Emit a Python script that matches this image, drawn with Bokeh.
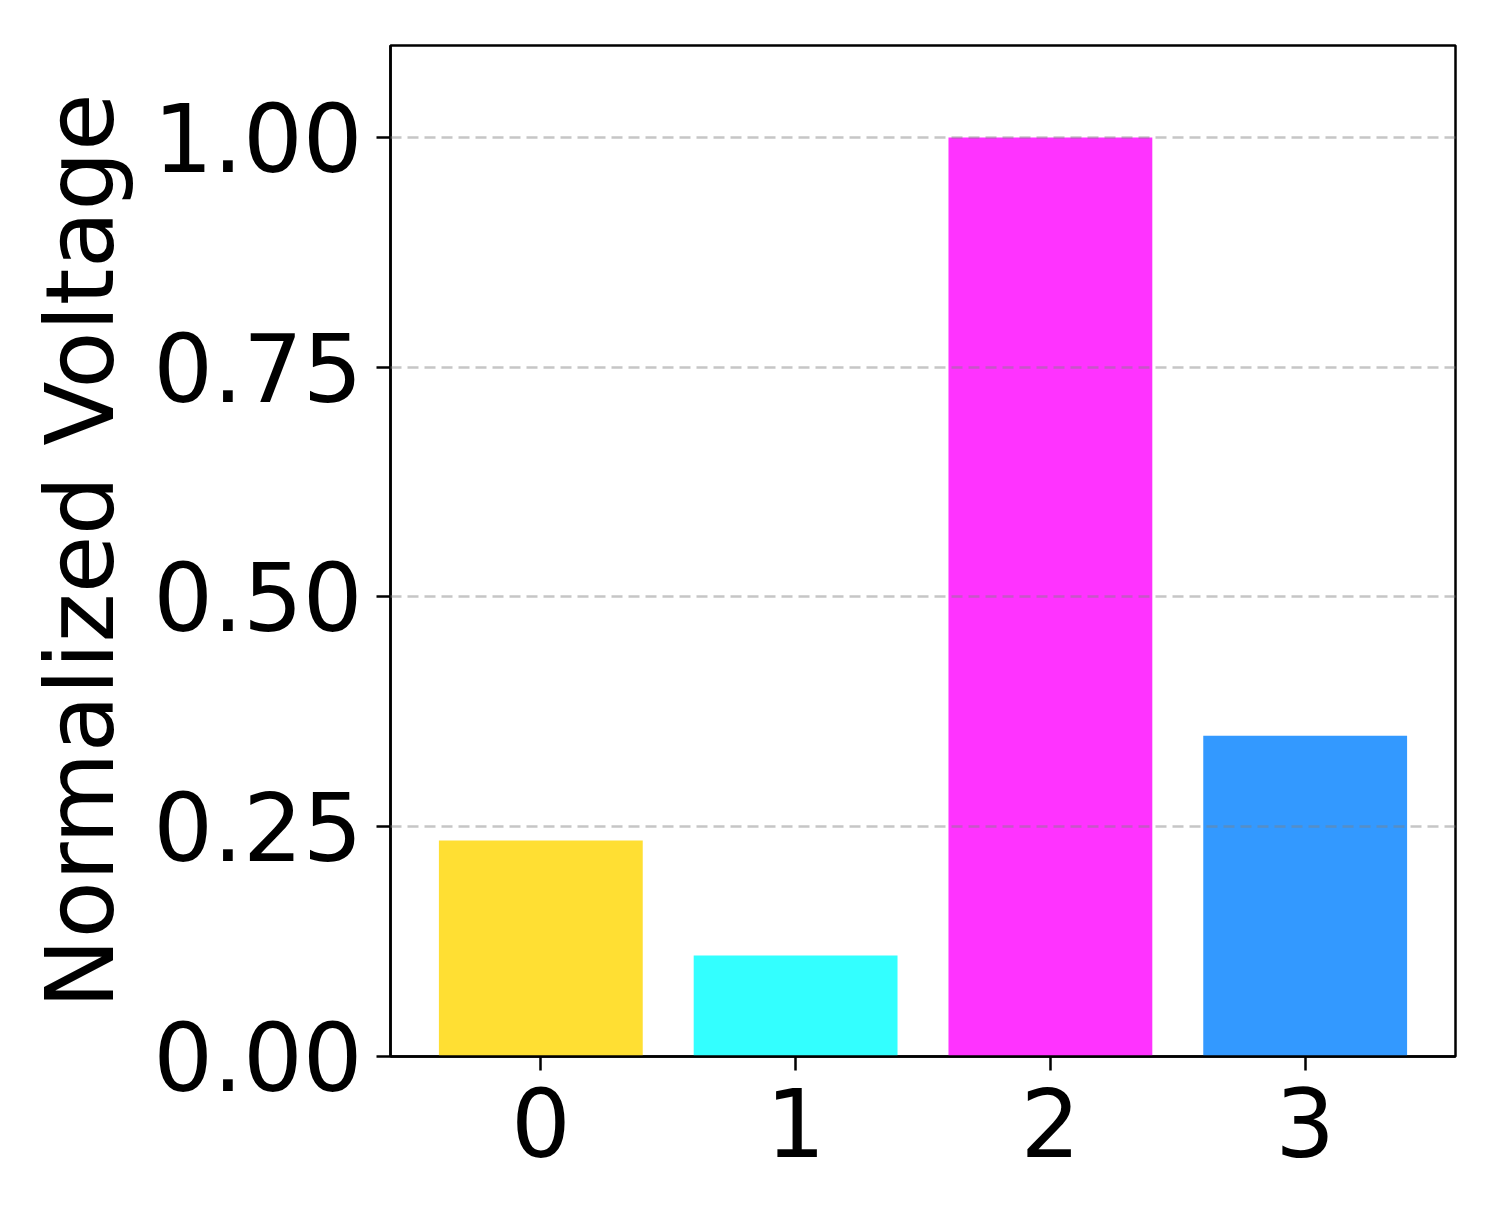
from bokeh.plotting import figure
from bokeh.models import FixedTicker, NumeralTickFormatter, Range1d
from bokeh.embed import file_html
from bokeh.resources import INLINE

categories = [0, 1, 2, 3]
values = [0.235, 0.110, 1.0, 0.349]
colors = ["#FFDF33", "#33FFFF", "#FF33FF", "#3399FF"]
y_ticks = [0.0, 0.25, 0.5, 0.75, 1.0]
x_ticks = [0, 1, 2, 3]

p = figure(width=1500, height=1221, output_backend="svg", toolbar_location=None,
           x_range=Range1d(-0.59, 3.59), y_range=Range1d(0, 1.1),
           min_border_left=390, min_border_right=45, min_border_top=45, min_border_bottom=165)

p.vbar(x=categories, top=values, width=0.8, bottom=0, fill_color=colors, line_color=None)

p.outline_line_color = "black"
p.outline_line_width = 2.5
p.outline_line_alpha = 1.0

p.xgrid.visible = False
p.ygrid.ticker = FixedTicker(ticks=y_ticks)
p.ygrid.grid_line_color = "gray"
p.ygrid.grid_line_alpha = 0.45
p.ygrid.grid_line_width = 2.5
p.ygrid.grid_line_dash = "11 6"
p.ygrid.level = "overlay"

p.yaxis.ticker = FixedTicker(ticks=y_ticks)
p.yaxis.formatter = NumeralTickFormatter(format="0.00")
p.xaxis.ticker = FixedTicker(ticks=x_ticks)

for ax in (p.xaxis, p.yaxis):
    ax.axis_line_color = "black"
    ax.axis_line_width = 2.5
    ax.major_tick_line_color = "black"
    ax.major_tick_line_width = 2.5
    ax.major_tick_out = 14
    ax.major_tick_in = 0
    ax.minor_tick_line_color = None
    ax.major_label_text_font = "DejaVu Sans"
    ax.major_label_text_font_size = "94px"
    ax.major_label_text_color = "black"

p.yaxis.major_label_standoff = 14
p.xaxis.major_label_standoff = 17

p.yaxis.axis_label = "Normalized Voltage"
p.yaxis.axis_label_text_font = "DejaVu Sans"
p.yaxis.axis_label_text_font_size = "94px"
p.yaxis.axis_label_text_font_style = "normal"
p.yaxis.axis_label_text_color = "black"
p.yaxis.axis_label_standoff = 15

open("out.html", "w").write(file_html(p, INLINE))
